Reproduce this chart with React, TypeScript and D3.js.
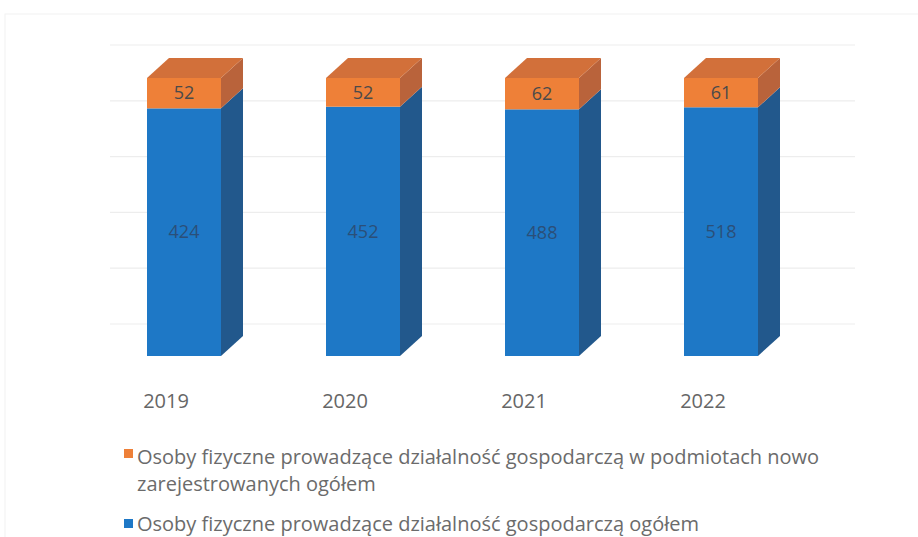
import React from "react";
import * as d3 from "d3";

const years = ["2019", "2020", "2021", "2022"];
const ogolem = [424, 452, 488, 518];
const nowo = [52, 52, 62, 61];
const gridTicks = [0, 0.2, 0.4, 0.6, 0.8, 1];
const legendNowo = ["Osoby fizyczne prowadzące działalność gospodarczą w podmiotach nowo", "zarejestrowanych ogółem"];
const legendOgolem = "Osoby fizyczne prowadzące działalność gospodarczą ogółem";

const W = 918;
const H = 537;
const DX = 22;
const DY = -20;

const colors = {
  blueFront: "#1E78C6",
  blueSide: "#22588C",
  orangeFront: "#EE8038",
  orangeSide: "#B9633B",
  orangeTop: "#D2703A",
};

export default function App() {
  const x = d3
    .scaleBand<string>()
    .domain(years)
    .range([94.5, 810.5])
    .paddingInner(0.5866)
    .paddingOuter(0.2933);
  const y = d3.scaleLinear().domain([0, 1]).range([356, 78]);
  const yWall = d3.scaleLinear().domain([0, 1]).range([324, 45]);
  const bw = x.bandwidth();
  const font = "'Open Sans', 'Noto Sans', sans-serif";

  const pts = (arr: number[][]) => arr.map((p) => p.join(",")).join(" ");

  return (
    <svg
      width={W}
      height={H}
      style={{ position: "absolute", left: 0, top: 0, background: "#fff" }}
    >
      <rect x={5} y={14} width={W + 20} height={H} fill="none" stroke="#f2f2f2" strokeWidth={1} />
      {gridTicks.map((t) => (
        <line
          key={t}
          x1={110}
          x2={855}
          y1={yWall(t)}
          y2={yWall(t)}
          stroke="#ededed"
          strokeWidth={1.2}
        />
      ))}
      {years.map((yr, i) => {
        const total = ogolem[i] + nowo[i];
        const x0 = x(yr)!;
        const x1 = x0 + bw;
        const yb = y(0);
        const ym = y(ogolem[i] / total);
        const yt = y(1);
        return (
          <g key={yr}>
            <polygon
              points={pts([[x1, yb], [x1 + DX, yb + DY], [x1 + DX, ym + DY], [x1, ym]])}
              fill={colors.blueSide}
            />
            <polygon
              points={pts([[x1, ym], [x1 + DX, ym + DY], [x1 + DX, yt + DY], [x1, yt]])}
              fill={colors.orangeSide}
            />
            <polygon
              points={pts([[x0, yt], [x1, yt], [x1 + DX, yt + DY], [x0 + DX, yt + DY]])}
              fill={colors.orangeTop}
            />
            <rect x={x0} y={ym} width={bw} height={yb - ym} fill={colors.blueFront} />
            <rect x={x0} y={yt} width={bw} height={ym - yt} fill={colors.orangeFront} />
            <text
              x={x0 + bw / 2}
              y={(yt + ym) / 2}
              dy="0.35em"
              textAnchor="middle"
              fontFamily={font}
              fontSize={18}
              fill="#4a4a4a"
            >
              {nowo[i]}
            </text>
            <text
              x={x0 + bw / 2}
              y={(ym + yb) / 2}
              dy="0.35em"
              textAnchor="middle"
              fontFamily={font}
              fontSize={18}
              fill="#2b4f78"
            >
              {ogolem[i]}
            </text>
            <text
              x={x0 + bw / 2 - 18}
              y={408}
              textAnchor="middle"
              fontFamily={font}
              fontSize={20}
              fill="#666"
            >
              {yr}
            </text>
          </g>
        );
      })}
      <rect x={124} y={449} width={9} height={9} fill={colors.orangeFront} />
      <text x={137} y={464} fontFamily={font} fontSize={20} fill="#6b6b6b">
        {legendNowo[0]}
      </text>
      <text x={137} y={491} fontFamily={font} fontSize={20} fill="#6b6b6b">
        {legendNowo[1]}
      </text>
      <rect x={124} y={519} width={9} height={9} fill={colors.blueFront} />
      <text x={137} y={531} fontFamily={font} fontSize={20} fill="#6b6b6b">
        {legendOgolem}
      </text>
    </svg>
  );
}
